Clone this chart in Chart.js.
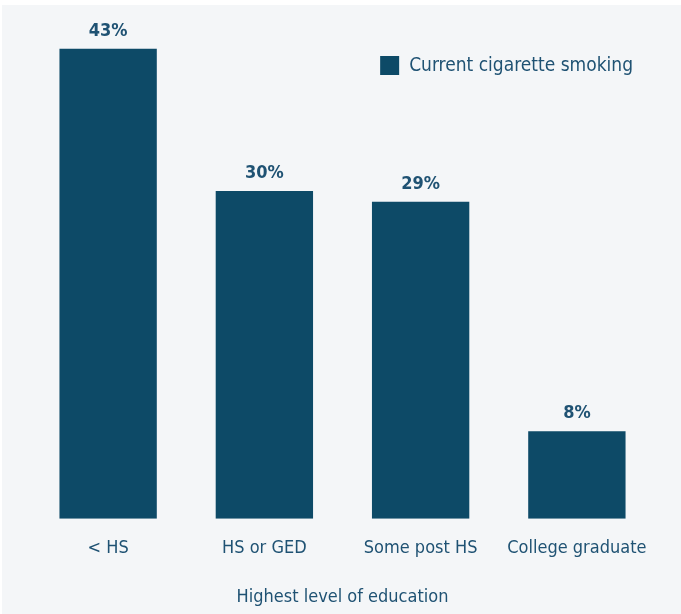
<!DOCTYPE html>
<html>
<head>
<meta charset="utf-8">
<script src="https://cdn.jsdelivr.net/npm/chart.js@4.4.1/dist/chart.umd.min.js"></script>
<style>
  html, body { margin: 0; padding: 0; background: #fff; }
  #wrap { position: absolute; left: 2px; top: 5px; width: 679px; height: 609px; background: #f4f6f8; }
  canvas { display: block; }
</style>
</head>
<body>
<div id="wrap"><canvas id="eduChart" width="679" height="609"></canvas></div>
<script>
// Smoking by education level
const categories = ['< HS', 'HS or GED', 'Some post HS', 'College graduate'];
const smokingPct = [43, 30, 29, 8];
const seriesLabel = 'Current cigarette smoking';
const axisTitle = 'Highest level of education';

const FONT = "'Liberation Sans Narrow', 'DejaVu Sans Condensed', 'Roboto', sans-serif";
const BAR_COLOR = '#0d4a67';
const TEXT_COLOR = '#1f5273';

// value labels above the bars
const valueLabels = {
    id: 'valueLabels',
    afterDatasetsDraw(chart) {
        const ctx = chart.ctx;
        const meta = chart.getDatasetMeta(0);
        ctx.save();
        ctx.fillStyle = TEXT_COLOR;
        ctx.font = "bold 18px " + FONT;
        ctx.textAlign = 'center';
        ctx.textBaseline = 'middle';
        meta.data.forEach((bar, i) => {
            ctx.fillText(chart.data.datasets[0].data[i] + '%', bar.x, bar.y - 18);
        });
        ctx.restore();
    }
};

// legend drawn inside the plot, top right
const insideLegend = {
    id: 'insideLegend',
    afterDraw(chart) {
        const ctx = chart.ctx;
        const ds = chart.data.datasets[0];
        ctx.save();
        ctx.font = "19px " + FONT;
        const textRight = 631;
        const w = ctx.measureText(ds.label).width;
        const textLeft = textRight - w;
        ctx.fillStyle = ds.backgroundColor;
        ctx.fillRect(textLeft - 29, 51, 19, 19);
        ctx.fillStyle = TEXT_COLOR;
        ctx.textAlign = 'left';
        ctx.textBaseline = 'middle';
        ctx.fillText(ds.label, textLeft, 61);
        ctx.restore();
    }
};

new Chart(document.getElementById('eduChart'), {
    type: 'bar',
    data: {
        labels: categories,
        datasets: [{
            label: seriesLabel,
            data: smokingPct,
            backgroundColor: BAR_COLOR,
            borderWidth: 0,
            categoryPercentage: 1,
            barPercentage: 0.623
        }]
    },
    options: {
        responsive: false,
        animation: false,
        layout: { padding: { left: 28, right: 26, top: 22, bottom: 6 } },
        plugins: {
            legend: { display: false },
            tooltip: { enabled: false }
        },
        scales: {
            y: {
                display: false,
                beginAtZero: true,
                min: 0,
                max: 45
            },
            x: {
                grid: { display: false },
                border: { display: false },
                ticks: {
                    color: TEXT_COLOR,
                    font: { family: FONT, size: 18 },
                    padding: 11
                },
                title: {
                    display: true,
                    text: axisTitle,
                    color: TEXT_COLOR,
                    font: { family: FONT, size: 18 },
                    padding: { top: 16, bottom: 0 }
                }
            }
        }
    },
    plugins: [valueLabels, insideLegend]
});
</script>
</body>
</html>
